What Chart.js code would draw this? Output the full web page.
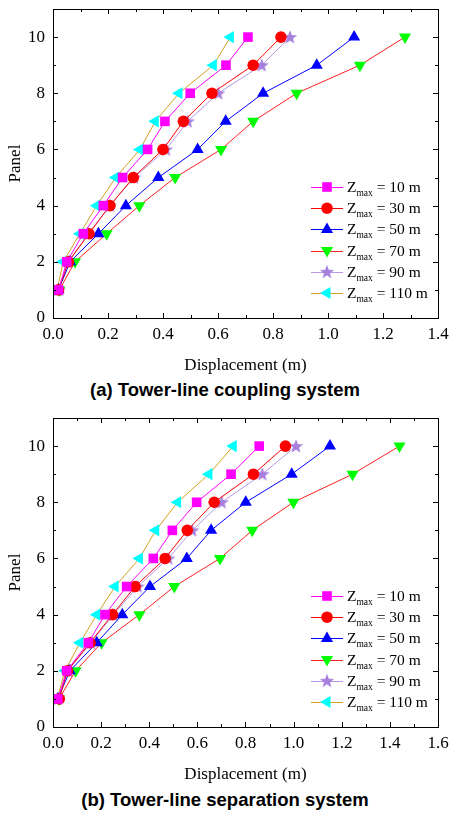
<!DOCTYPE html>
<html>
<head>
<meta charset="utf-8">
<script src="https://cdn.jsdelivr.net/npm/chart.js@4.4.0/dist/chart.umd.min.js"></script>
<style>
    body { margin: 0; background: #fff; }
    #wrap { position: relative; width: 450px; height: 814px; }
    canvas { position: absolute; left: 0; }
    .caption {
        position: absolute; left: 0; width: 450px; text-align: center;
        font: bold 18.5px "Liberation Sans", Arial, sans-serif; line-height: 22px; color: #000;
    }
</style>
</head>
<body>
<div id="wrap">
    <canvas id="chartA" width="450" height="376" style="top:0"></canvas>
    <div class="caption" style="top:379px">(a) Tower-line coupling system</div>
    <canvas id="chartB" width="450" height="376" style="top:409px"></canvas>
    <div class="caption" style="top:789px">(b) Tower-line separation system</div>
</div>
<script>
/* ---------- data ---------- */
const panels = [1, 2, 3, 4, 5, 6, 7, 8, 9, 10];
const zmaxLabels = ["10", "30", "50", "70", "90", "110"];

const yTicks = [0, 2, 4, 6, 8, 10];
const xTicksA = [0, 0.2, 0.4, 0.6, 0.8, 1.0, 1.2, 1.4];
const xTicksB = [0, 0.2, 0.4, 0.6, 0.8, 1.0, 1.2, 1.4, 1.6];

// (a) tower-line coupling system
const coupling10  = [0.02, 0.05, 0.11, 0.183, 0.253, 0.344, 0.407, 0.499, 0.629, 0.709];
const coupling30  = [0.02, 0.056, 0.131, 0.207, 0.292, 0.40, 0.474, 0.578, 0.728, 0.829];
const coupling50  = [0.02, 0.062, 0.165, 0.265, 0.383, 0.526, 0.628, 0.764, 0.959, 1.095];
const coupling70  = [0.023, 0.08, 0.195, 0.314, 0.444, 0.611, 0.728, 0.886, 1.116, 1.28];
const coupling90  = [0.02, 0.055, 0.128, 0.207, 0.295, 0.411, 0.49, 0.601, 0.759, 0.862];
const coupling110 = [0.015, 0.037, 0.098, 0.159, 0.228, 0.316, 0.372, 0.458, 0.583, 0.645];

// (b) tower-line separation system
const separation10  = [0.02, 0.057, 0.147, 0.216, 0.306, 0.417, 0.496, 0.597, 0.74, 0.857];
const separation30  = [0.026, 0.06, 0.154, 0.247, 0.341, 0.466, 0.558, 0.67, 0.833, 0.966];
const separation50  = [0.02, 0.07, 0.182, 0.288, 0.403, 0.556, 0.657, 0.801, 0.992, 1.151];
const separation70  = [0.025, 0.094, 0.202, 0.359, 0.504, 0.694, 0.828, 0.999, 1.245, 1.44];
const separation90  = [0.02, 0.062, 0.158, 0.251, 0.352, 0.479, 0.579, 0.701, 0.87, 1.01];
const separation110 = [0.017, 0.05, 0.112, 0.182, 0.258, 0.359, 0.427, 0.518, 0.648, 0.749];

/* ---------- styles ---------- */
const SERIF = '"Liberation Serif", "Times New Roman", serif';

// filled five-point star for the 90 m series
function makeStar(color) {
    const c = document.createElement("canvas");
    c.width = 16;
    c.height = 16;
    const g = c.getContext("2d");
    g.fillStyle = color;
    g.beginPath();
    for (let i = 0; i < 10; i++) {
        const r = i % 2 === 0 ? 7.5 : 3.1;
        const a = -Math.PI / 2 + i * Math.PI / 5;
        g.lineTo(8 + r * Math.cos(a), 8.5 + r * Math.sin(a));
    }
    g.closePath();
    g.fill();
    return c;
}
const starImg = makeStar("#a77fdd");

const seriesStyles = [
    { line: "#ff00ff", marker: "#ff00ff", pointStyle: "rect", radius: 6.8, rotation: 0 },
    { line: "#ff0000", marker: "#ff0000", pointStyle: "circle", radius: 5.8, rotation: 0 },
    { line: "#0000ff", marker: "#0000ff", pointStyle: "triangle", radius: 7, rotation: 0 },
    { line: "#ff2020", marker: "#00ff00", pointStyle: "triangle", radius: 7, rotation: 180 },
    { line: "#b898e8", marker: "#a77fdd", pointStyle: starImg, radius: 7, rotation: 0 },
    { line: "#d4a020", marker: "#00ffff", pointStyle: "triangle", radius: 7, rotation: 270 }
];

function buildDatasets(seriesValues) {
    return seriesValues.map((values, i) => {
        const s = seriesStyles[i];
        return {
            label: "Zmax = " + zmaxLabels[i] + " m",
            data: values.map((v, k) => ({ x: v, y: panels[k] })),
            showLine: true,
            borderColor: s.line,
            borderWidth: 1,
            backgroundColor: s.marker,
            pointBackgroundColor: s.marker,
            pointBorderColor: s.marker,
            pointBorderWidth: 0,
            pointStyle: s.pointStyle,
            pointRadius: s.radius,
            pointRotation: s.rotation,
            tension: 0
        };
    });
}

/* ---------- plugins ---------- */
// closed frame with inward major + minor ticks on all four sides
const frameTicks = {
    id: "frameTicks",
    afterDraw(chart, args, opts) {
        const { ctx, chartArea: a, scales: { x, y } } = chart;
        ctx.save();
        ctx.strokeStyle = "#000";
        ctx.lineWidth = 1;
        ctx.beginPath();
        for (let v = 0; v <= opts.xMax + 1e-9; v += 0.1) {
            const px = Math.round(x.getPixelForValue(v)) + 0.5;
            const major = Math.abs(v / 0.2 - Math.round(v / 0.2)) < 1e-6;
            const len = major ? 5 : 3;
            ctx.moveTo(px, a.bottom);
            ctx.lineTo(px, a.bottom - len);
            ctx.moveTo(px, a.top);
            ctx.lineTo(px, a.top + len);
        }
        for (let v = 0; v <= 11; v += 1) {
            const py = Math.round(y.getPixelForValue(v)) + 0.5;
            const len = v % 2 === 0 ? 5 : 3;
            ctx.moveTo(a.left, py);
            ctx.lineTo(a.left + len, py);
            ctx.moveTo(a.right, py);
            ctx.lineTo(a.right - len, py);
        }
        ctx.stroke();
        ctx.strokeRect(Math.round(a.left) + 0.5, Math.round(a.top) + 0.5,
            Math.round(a.right - a.left), Math.round(a.bottom - a.top));
        ctx.restore();
    }
};

// legend with subscript "max"
const zLegend = {
    id: "zLegend",
    afterDraw(chart) {
        const { ctx, chartArea: a } = chart;
        ctx.save();
        chart.data.datasets.forEach((ds, i) => {
            const s = seriesStyles[i];
            const cy = a.bottom - 25 - (5 - i) * 21.2;
            ctx.strokeStyle = s.line;
            ctx.lineWidth = 1;
            ctx.beginPath();
            ctx.moveTo(311, Math.round(cy) + 0.5);
            ctx.lineTo(343, Math.round(cy) + 0.5);
            ctx.stroke();
            ctx.fillStyle = s.marker;
            Chart.helpers.drawPoint(ctx, {
                pointStyle: s.pointStyle,
                rotation: s.rotation,
                radius: s.radius,
                borderWidth: 0
            }, 327, cy);
            ctx.fillStyle = "#000";
            ctx.textBaseline = "alphabetic";
            ctx.textAlign = "left";
            ctx.font = "15.5px " + SERIF;
            let tx = 347;
            const base = cy + 5;
            ctx.fillText("Z", tx, base);
            tx += ctx.measureText("Z").width;
            ctx.font = "9.5px " + SERIF;
            ctx.fillText("max", tx, base + 4);
            tx += ctx.measureText("max").width;
            ctx.font = "15.5px " + SERIF;
            ctx.fillText(" = " + zmaxLabels[i] + " m", tx, base);
        });
        ctx.restore();
    }
};

/* ---------- charts ---------- */
function makeChart(canvasId, xMax, xTicks, seriesValues) {
    const canvas = document.getElementById(canvasId);
    return new Chart(canvas, {
        type: "scatter",
        data: { datasets: buildDatasets(seriesValues) },
        options: {
            responsive: false,
            animation: false,
            devicePixelRatio: 1,
            layout: { padding: { top: 9, right: 12, left: 0, bottom: 0 } },
            plugins: {
                legend: { display: false },
                tooltip: { enabled: false },
                frameTicks: { xMax }
            },
            scales: {
                x: {
                    type: "linear",
                    min: 0,
                    max: xMax,
                    afterBuildTicks: scale => {
                        scale.ticks = xTicks.map(v => ({ value: v }));
                    },
                    afterFit: scale => { scale.height = 58; },
                    grid: { display: false, drawTicks: true, tickLength: 8 },
                    border: { display: false },
                    ticks: {
                        color: "#000",
                        padding: 0,
                        maxRotation: 0,
                        font: { family: SERIF, size: 17, lineHeight: 1 },
                        callback: value => Number(value).toFixed(1)
                    },
                    title: {
                        display: true,
                        text: "Displacement (m)",
                        color: "#000",
                        padding: { top: 0, bottom: 0 },
                        font: { family: SERIF, size: 17 }
                    }
                },
                y: {
                    type: "linear",
                    min: 0,
                    max: 11,
                    afterBuildTicks: scale => {
                        scale.ticks = yTicks.map(v => ({ value: v }));
                    },
                    afterFit: scale => { scale.width = 53; },
                    grid: { display: false, drawTicks: true, tickLength: 8 },
                    border: { display: false },
                    ticks: {
                        color: "#000",
                        padding: 0,
                        font: { family: SERIF, size: 17, lineHeight: 1 }
                    },
                    title: {
                        display: true,
                        text: "Panel",
                        color: "#000",
                        padding: { top: 5, bottom: 0 },
                        font: { family: SERIF, size: 17 }
                    }
                }
            }
        },
        plugins: [frameTicks, zLegend]
    });
}

makeChart("chartA", 1.4, xTicksA,
    [coupling10, coupling30, coupling50, coupling70, coupling90, coupling110]);
makeChart("chartB", 1.6, xTicksB,
    [separation10, separation30, separation50, separation70, separation90, separation110]);
</script>
</body>
</html>
